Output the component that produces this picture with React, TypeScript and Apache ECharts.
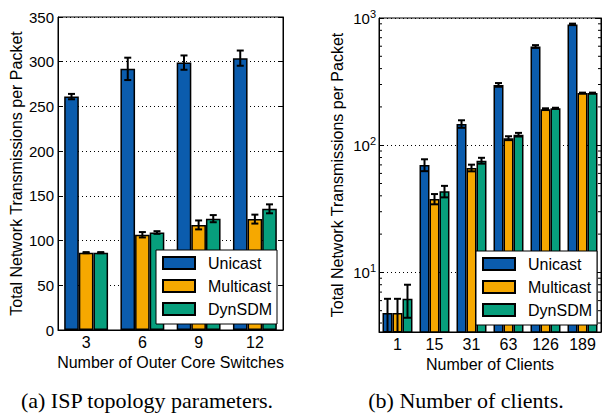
import React, { useEffect, useRef } from "react";
import * as echarts from "echarts";

// ---- Data: (a) ISP topology parameters ----
const switchCats = ["3", "6", "9", "12"];
const ispUnicast = [261, 292, 299, 304];
const ispUnicastErr = [3, 12.5, 8, 8.5];
const ispMulticast = [86.5, 106.5, 117.5, 124];
const ispMulticastErr = [0.6, 3, 5, 5];
const ispDynSDM = [86.5, 109, 124.5, 135.5];
const ispDynSDMErr = [0.6, 1.5, 4, 5];
const ispTicks = [0, 50, 100, 150, 200, 250, 300, 350];

// ---- Data: (b) Number of clients ----
const clientCats = ["1", "15", "31", "63", "126", "189"];
const clUnicast = [4.8, 70, 147, 298, 597, 891];
const clUnicastErr = [1.4, 7.5, 10, 10, 15, 12];
const clMulticast = [4.8, 37.8, 66.3, 113.6, 192, 257];
const clMulticastErr = [1.4, 3.5, 4, 4, 3, 2];
const clDynSDM = [6.2, 43.4, 75.6, 121, 195, 257];
const clDynSDMErr = [1.8, 4.5, 4, 4, 2, 2];
const logMin = 3.4;
const logMax = 1000;
const logMinorTicks = [4, 5, 6, 7, 8, 9, 20, 30, 40, 50, 60, 70, 80, 90, 200, 300, 400, 500, 600, 700, 800, 900];

const seriesNames = ["Unicast", "Multicast", "DynSDM"];
const colors = ["#0b5cad", "#f6a800", "#079f7d"];
const captionA = "(a) ISP topology parameters.";
const captionB = "(b) Number of clients.";
const yName = "Total Network Transmissions per Packet";

const SANS = '"Liberation Sans", Arial, sans-serif';
const SERIF = '"Liberation Serif", "Times New Roman", serif';

function barSeries(name: string, idx: number, data: number[], axis: number, widthPct: string) {
  return {
    name,
    type: "bar",
    xAxisIndex: axis,
    yAxisIndex: axis * 2,
    data,
    barWidth: widthPct,
    barGap: "0%",
    itemStyle: { color: colors[idx], borderColor: "#000", borderWidth: 1.5 },
    z: 2,
  };
}

function errSeries(idx: number, vals: number[], errs: number[], axis: number, pct: number, nCats: number, floor: number) {
  return {
    type: "custom",
    xAxisIndex: axis,
    yAxisIndex: axis * 2,
    silent: true,
    z: 5,
    data: vals.map((v, i) => [i, v, errs[i]]),
    renderItem: (params: any, api: any) => {
      const x = api.value(0);
      const v = api.value(1);
      const e = api.value(2);
      const band = params.coordSys.width / nCats;
      const w = band * pct;
      const off = (idx - 1) * w;
      const top = api.coord([x, v + e]);
      const bot = api.coord([x, Math.max(v - e, floor)]);
      const cx = top[0] + off;
      const cap = 3.5;
      const st = { stroke: "#000", lineWidth: 2 };
      return {
        type: "group",
        children: [
          { type: "line", shape: { x1: cx, y1: top[1], x2: cx, y2: bot[1] }, style: st },
          { type: "line", shape: { x1: cx - cap, y1: top[1], x2: cx + cap, y2: top[1] }, style: st },
          { type: "line", shape: { x1: cx - cap, y1: bot[1], x2: cx + cap, y2: bot[1] }, style: st },
        ],
      };
    },
  };
}

function minorTickSeries(vals: number[]) {
  return {
    type: "custom",
    xAxisIndex: 1,
    yAxisIndex: 2,
    silent: true,
    z: 6,
    data: vals.map((v) => [0, v]),
    renderItem: (params: any, api: any) => {
      const p = api.coord([0, api.value(1)]);
      const cs = params.coordSys;
      const st = { stroke: "#000", lineWidth: 1 };
      return {
        type: "group",
        children: [
          { type: "line", shape: { x1: cs.x, y1: p[1], x2: cs.x + 3, y2: p[1] }, style: st },
          { type: "line", shape: { x1: cs.x + cs.width - 3, y1: p[1], x2: cs.x + cs.width, y2: p[1] }, style: st },
        ],
      };
    },
  };
}

const legendBase = {
  orient: "vertical",
  icon: "rect",
  itemWidth: 32,
  itemHeight: 12,
  itemGap: 7,
  backgroundColor: "#fff",
  borderColor: "#000",
  borderWidth: 1,
  borderRadius: 0,
  padding: [5, 5, 7, 6],
  textStyle: { fontFamily: SANS, fontSize: 16, color: "#000", lineHeight: 16, padding: [0, 0, 0, 8] },
  data: seriesNames,
};

export default function App() {
  const ref = useRef<HTMLDivElement>(null);
  useEffect(() => {
    if (!ref.current) return;
    const chart = echarts.init(ref.current, null, { renderer: "svg" });
    const axisLineStyle = { color: "#000", width: 1 };
    const option: any = {
      animation: false,
      backgroundColor: "#fff",
      textStyle: { fontFamily: SANS },
      grid: [
        { left: 58, top: 17, width: 225, height: 313, show: true, borderColor: "#000", borderWidth: 1, backgroundColor: "transparent" },
        { left: 379, top: 18, width: 222, height: 314, show: true, borderColor: "#000", borderWidth: 1, backgroundColor: "transparent" },
      ],
      legend: [
        { ...legendBase, left: 156, top: 250 },
        { ...legendBase, left: 476, top: 251 },
      ],
      xAxis: [
        {
          type: "category", gridIndex: 0, data: switchCats,
          axisLine: { lineStyle: axisLineStyle }, axisTick: { show: false },
          axisLabel: { fontSize: 16, color: "#000", margin: 4, fontFamily: SANS },
          name: "Number of Outer Core Switches", nameLocation: "middle", nameGap: 24,
          nameTextStyle: { fontSize: 16, color: "#000", fontFamily: SANS },
        },
        {
          type: "category", gridIndex: 1, data: clientCats,
          axisLine: { lineStyle: axisLineStyle }, axisTick: { show: false },
          axisLabel: { fontSize: 16, color: "#000", margin: 4, fontFamily: SANS },
          name: "Number of Clients", nameLocation: "middle", nameGap: 24,
          nameTextStyle: { fontSize: 16, color: "#000", fontFamily: SANS },
        },
      ],
      yAxis: [
        {
          type: "value", gridIndex: 0, min: ispTicks[0], max: ispTicks[ispTicks.length - 1], interval: 50,
          axisLine: { show: true, lineStyle: axisLineStyle },
          axisTick: { show: true, inside: true, length: 4, lineStyle: { color: "#000" } },
          axisLabel: { fontSize: 15, color: "#000", margin: 4, fontFamily: SANS },
          splitLine: { show: true, lineStyle: { color: "#000", type: [1, 3], width: 1 } },
          name: yName, nameLocation: "middle", nameGap: 34,
          nameTextStyle: { fontSize: 16, color: "#000", fontFamily: SANS },
        },
        {
          type: "value", gridIndex: 0, position: "right", min: ispTicks[0], max: ispTicks[ispTicks.length - 1], interval: 50,
          axisLine: { show: true, lineStyle: axisLineStyle },
          axisTick: { show: true, inside: true, length: 4, lineStyle: { color: "#000" } },
          axisLabel: { show: false }, splitLine: { show: false },
        },
        {
          type: "log", logBase: 10, gridIndex: 1, min: logMin, max: logMax,
          axisLine: { show: true, lineStyle: axisLineStyle },
          axisTick: { show: true, inside: true, length: 5, lineStyle: { color: "#000" } },
          axisLabel: {
            fontSize: 15, color: "#000", margin: 3, fontFamily: SANS, showMinLabel: false,
            formatter: (v: number) => {
              const e = Math.log10(v);
              if (Math.abs(e - Math.round(e)) > 1e-6) return "";
              return "10{sup|" + Math.round(e) + "}";
            },
            rich: { sup: { fontSize: 11, color: "#000", fontFamily: SANS, verticalAlign: "bottom", padding: [0, 0, 9, 0] } },
          },
          splitLine: { show: true, lineStyle: { color: "#000", type: [1, 3], width: 1 } },
          name: yName, nameLocation: "middle", nameGap: 34,
          nameTextStyle: { fontSize: 16, color: "#000", fontFamily: SANS },
        },
        {
          type: "log", logBase: 10, gridIndex: 1, position: "right", min: logMin, max: logMax,
          axisLine: { show: true, lineStyle: axisLineStyle },
          axisTick: { show: true, inside: true, length: 5, lineStyle: { color: "#000" } },
          axisLabel: { show: false }, splitLine: { show: false },
        },
      ],
      series: [
        barSeries(seriesNames[0], 0, ispUnicast, 0, "26%"),
        barSeries(seriesNames[1], 1, ispMulticast, 0, "26%"),
        barSeries(seriesNames[2], 2, ispDynSDM, 0, "26%"),
        errSeries(0, ispUnicast, ispUnicastErr, 0, 0.26, switchCats.length, 0),
        errSeries(1, ispMulticast, ispMulticastErr, 0, 0.26, switchCats.length, 0),
        errSeries(2, ispDynSDM, ispDynSDMErr, 0, 0.26, switchCats.length, 0),
        barSeries(seriesNames[0], 0, clUnicast, 1, "27%"),
        barSeries(seriesNames[1], 1, clMulticast, 1, "27%"),
        barSeries(seriesNames[2], 2, clDynSDM, 1, "27%"),
        errSeries(0, clUnicast, clUnicastErr, 1, 0.27, clientCats.length, logMin),
        errSeries(1, clMulticast, clMulticastErr, 1, 0.27, clientCats.length, logMin),
        errSeries(2, clDynSDM, clDynSDMErr, 1, 0.27, clientCats.length, logMin),
        minorTickSeries(logMinorTicks),
      ],
      graphic: [
        { type: "text", style: { x: 147, y: 400, text: captionA, font: "22px " + SERIF, fill: "#000", textAlign: "center", textVerticalAlign: "middle" } },
        { type: "text", style: { x: 466, y: 400, text: captionB, font: "22px " + SERIF, fill: "#000", textAlign: "center", textVerticalAlign: "middle" } },
      ],
    };
    chart.setOption(option);
    return () => chart.dispose();
  }, []);
  return <div ref={ref} style={{ position: "fixed", left: 0, top: 0, width: 602, height: 414 }} />;
}
